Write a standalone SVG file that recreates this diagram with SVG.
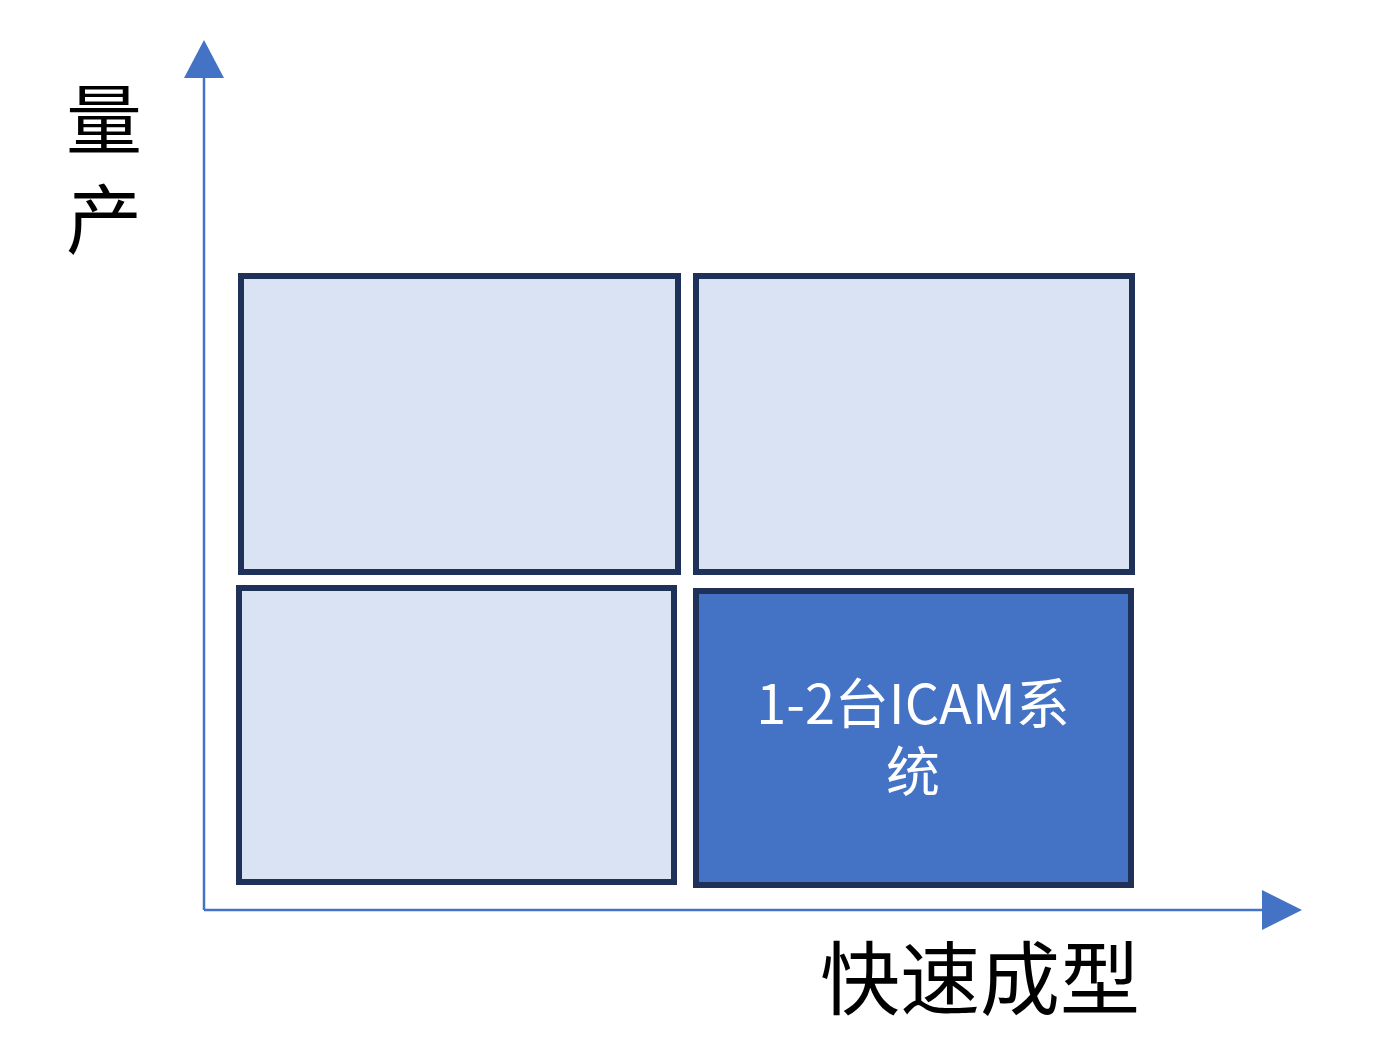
<svg xmlns="http://www.w3.org/2000/svg" width="1400" height="1046" viewBox="0 0 1400 1046">
<style>
.box{fill:#dae3f3;stroke:#1f3158;stroke-width:6}
.dark{fill:#4472c4}
.ax{stroke:#4472c4;stroke-width:2.5;fill:none}
.lbl{font-family:"Noto Sans CJK SC","Noto Sans",sans-serif;fill:#000;font-size:80px}
.yl{font-size:76px}
.in{font-family:"Noto Sans CJK SC","Noto Sans",sans-serif;fill:#fff;font-size:54px;text-anchor:middle}
</style>
<g id="connectors">
<line class="ax" x1="204" y1="910" x2="204" y2="76"/>
<polygon points="204,40 184,78 224,78" fill="#4472c4"/>
<line class="ax" x1="204" y1="910" x2="1264" y2="910"/>
<polygon points="1302,910 1262,890 1262,930" fill="#4472c4"/>
</g>
<g id="box-tl"><rect class="box" x="241" y="276" width="437" height="296"/></g>
<g id="box-tr"><rect class="box" x="696" y="276" width="436" height="296"/></g>
<g id="box-bl"><rect class="box" x="239" y="588" width="435" height="294"/></g>
<g id="box-br"><rect class="box dark" x="696" y="591" width="435" height="294"/>
<text class="in" x="913" y="724">1-2台ICAM系</text>
<text class="in" x="913" y="792">统</text></g>
<g id="ylabel"><text class="lbl yl" x="66" y="148">量</text><text class="lbl yl" x="66" y="248">产</text></g>
<g id="xlabel"><text class="lbl" x="820" y="1008">快速成型</text></g>
</svg>
